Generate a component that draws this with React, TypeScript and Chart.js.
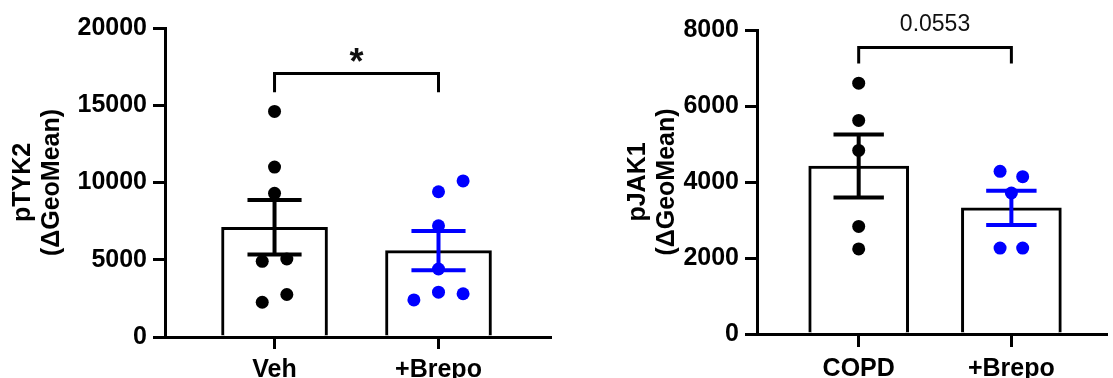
import { useEffect, useRef } from 'react';
import { Chart, registerables } from 'chart.js';

Chart.register(...registerables);

const FONT = '"Liberation Sans", Arial, Helvetica, sans-serif';

// ---- pTYK2 panel data ----
const tyk2Title = ['pTYK2', '(ΔGeoMean)'];
const tyk2Groups = ['Veh', '+Brepo'];
const tyk2Means = [7100, 5590];
const tyk2Sems = [1760, 1265];
const tyk2VehValues = [14600, 11000, 9300, 4900, 5050, 2250, 2750];
const tyk2BrepoValues = [10100, 9400, 7200, 4400, 2400, 2900, 2800];
const tyk2Ticks = [0, 5000, 10000, 15000, 20000];
const tyk2Bracket = [15840, 17050];
const tyk2SigLabel = '*';

// ---- pJAK1 panel data ----
const jak1Title = ['pJAK1', '(ΔGeoMean)'];
const jak1Groups = ['COPD', '+Brepo'];
const jak1Means = [4420, 3320];
const jak1Sems = [828, 451];
const jak1CopdValues = [6600, 5620, 4830, 2830, 2240];
const jak1BrepoValues = [4280, 4140, 3710, 2260, 2260];
const jak1Ticks = [0, 2000, 4000, 6000, 8000];
const jak1Bracket = [7120, 7540];
const jak1SigLabel = '0.0553';

// horizontal spread of the individual points (in category units)
const tyk2VehJitter = [0, 0, 0, -0.075, 0.075, -0.075, 0.075];
const tyk2BrepoJitter = [0.15, 0, 0, 0, -0.15, 0, 0.15];
const jak1CopdJitter = [0, 0, 0, 0, 0];
const jak1BrepoJitter = [-0.074, 0.074, 0, -0.074, 0.074];

const BLACK = '#000000';
const BLUE = '#0000ff';
const CAP_HALF = 0.165;

type PanelSpec = {
  title: string[];
  groups: string[];
  means: number[];
  sems: number[];
  points: number[][];
  jitter: number[][];
  colors: string[];
  ticks: number[];
  bracket: number[];
  sigLabel: string;
  sigFont: { size: number; weight: string };
  sigGap: number;
  canvasLeft: number;
  canvasWidth: number;
  yAxisWidth: number;
  padTop: number;
  padRight: number;
  xAxisHeight: number;
  xMin: number;
  xMax: number;
  barThickness: number;
  xTickLen: number;
  xTickPad: number;
};

const HEIGHT = 378;

const panels: PanelSpec[] = [
  {
    title: tyk2Title,
    groups: tyk2Groups,
    means: tyk2Means,
    sems: tyk2Sems,
    points: [tyk2VehValues, tyk2BrepoValues],
    jitter: [tyk2VehJitter, tyk2BrepoJitter],
    colors: [BLACK, BLUE],
    ticks: tyk2Ticks,
    bracket: tyk2Bracket,
    sigLabel: tyk2SigLabel,
    sigFont: { size: 36, weight: 'bold' },
    sigGap: 0,
    canvasLeft: 0,
    canvasWidth: 560,
    yAxisWidth: 165,
    padTop: 28,
    padRight: 10,
    xAxisHeight: 41,
    xMin: -0.668,
    xMax: 1.68,
    barThickness: 106,
    xTickLen: 12,
    xTickPad: 6,
  },
  {
    title: jak1Title,
    groups: jak1Groups,
    means: jak1Means,
    sems: jak1Sems,
    points: [jak1CopdValues, jak1BrepoValues],
    jitter: [jak1CopdJitter, jak1BrepoJitter],
    colors: [BLACK, BLUE],
    ticks: jak1Ticks,
    bracket: jak1Bracket,
    sigLabel: jak1SigLabel,
    sigFont: { size: 23, weight: 'normal' },
    sigGap: 16,
    canvasLeft: 615,
    canvasWidth: 498,
    yAxisWidth: 142,
    padTop: 30,
    padRight: 0,
    xAxisHeight: 44,
    xMin: -0.666,
    xMax: 1.623,
    barThickness: 100,
    xTickLen: 13,
    xTickPad: 7,
  },
];

function buildConfig(spec: PanelSpec): any {
  const datasets: any[] = [];

  // individual points
  spec.points.forEach((vals, g) => {
    datasets.push({
      type: 'scatter',
      data: vals.map((v, i) => ({ x: g + spec.jitter[g][i], y: v })),
      backgroundColor: spec.colors[g],
      borderColor: spec.colors[g],
      pointRadius: 6.5,
      pointBorderWidth: 0,
      pointHoverRadius: 6.5,
      order: 0,
    });
  });

  // mean ± SEM error bars
  spec.means.forEach((m, g) => {
    const lo = m - spec.sems[g];
    const hi = m + spec.sems[g];
    const segments = [
      [{ x: g, y: lo }, { x: g, y: hi }],
      [{ x: g - CAP_HALF, y: hi }, { x: g + CAP_HALF, y: hi }],
      [{ x: g - CAP_HALF, y: lo }, { x: g + CAP_HALF, y: lo }],
    ];
    segments.forEach((seg) =>
      datasets.push({
        type: 'line',
        data: seg,
        borderColor: spec.colors[g],
        borderWidth: 4,
        borderCapStyle: 'butt',
        pointRadius: 0,
        fill: false,
        order: 1,
      })
    );
  });

  // significance bracket
  const [b0, b1] = spec.bracket;
  datasets.push({
    type: 'line',
    data: [
      { x: 0, y: b0 },
      { x: 0, y: b1 },
      { x: 1, y: b1 },
      { x: 1, y: b0 },
    ],
    borderColor: BLACK,
    borderWidth: 3,
    borderJoinStyle: 'miter',
    borderCapStyle: 'butt',
    pointRadius: 0,
    fill: false,
    order: 1,
  });

  // group mean bars
  datasets.push({
    type: 'bar',
    data: spec.means.map((m, i) => ({ x: i, y: m })),
    backgroundColor: '#ffffff',
    borderColor: BLACK,
    borderWidth: 3,
    barThickness: spec.barThickness,
    order: 2,
  });

  const sigPlugin = {
    id: 'sigLabel',
    afterDraw(chart: any) {
      const { ctx, scales } = chart;
      const x = scales.x.getPixelForValue(0.5);
      const y = scales.y.getPixelForValue(spec.bracket[1]) - spec.sigGap;
      ctx.save();
      ctx.fillStyle = '#111111';
      ctx.font = `${spec.sigFont.weight} ${spec.sigFont.size}px ${FONT}`;
      ctx.textAlign = 'center';
      ctx.textBaseline = 'alphabetic';
      ctx.fillText(spec.sigLabel, x, y);
      ctx.restore();
    },
  };

  const tickFont = { family: FONT, size: 25, weight: 'bold' as const };

  return {
    type: 'bar',
    data: { datasets },
    plugins: [sigPlugin],
    options: {
      responsive: false,
      animation: false,
      devicePixelRatio: 1,
      events: [],
      layout: { padding: { top: spec.padTop, right: spec.padRight, bottom: 0, left: 0 } },
      plugins: { legend: { display: false }, tooltip: { enabled: false } },
      scales: {
        x: {
          type: 'linear',
          min: spec.xMin,
          max: spec.xMax,
          offset: false,
          z: 1,
          afterBuildTicks: (axis: any) => {
            axis.ticks = spec.groups.map((_, i) => ({ value: i }));
          },
          afterFit: (axis: any) => {
            axis.height = spec.xAxisHeight;
          },
          ticks: {
            autoSkip: false,
            maxRotation: 0,
            padding: spec.xTickPad,
            color: BLACK,
            font: tickFont,
            callback: (v: number) => spec.groups[Math.round(v)] ?? '',
          },
          grid: {
            offset: false,
            drawOnChartArea: false,
            drawTicks: true,
            tickLength: spec.xTickLen,
            lineWidth: 3,
            color: BLACK,
          },
          border: { display: true, width: 3, color: BLACK },
        },
        y: {
          type: 'linear',
          min: spec.ticks[0],
          max: spec.ticks[spec.ticks.length - 1],
          z: 1,
          afterBuildTicks: (axis: any) => {
            axis.ticks = spec.ticks.map((v) => ({ value: v }));
          },
          afterFit: (axis: any) => {
            axis.width = spec.yAxisWidth;
          },
          ticks: {
            padding: 6,
            color: BLACK,
            font: tickFont,
            callback: (v: number) => String(v),
          },
          grid: {
            drawOnChartArea: false,
            drawTicks: true,
            tickLength: 12,
            lineWidth: 3,
            color: BLACK,
          },
          border: { display: true, width: 3, color: BLACK },
          title: {
            display: true,
            text: spec.title,
            color: BLACK,
            font: { family: FONT, size: 25, weight: 'bold', lineHeight: 1.15 },
            padding: { top: 9, bottom: 0 },
          },
        },
      },
    },
  };
}

function Panel({ spec }: { spec: PanelSpec }) {
  const ref = useRef<HTMLCanvasElement | null>(null);
  useEffect(() => {
    if (!ref.current) return;
    const chart = new Chart(ref.current, buildConfig(spec));
    return () => chart.destroy();
  }, [spec]);
  return (
    <div
      style={{
        position: 'absolute',
        left: spec.canvasLeft,
        top: 0,
        width: spec.canvasWidth,
        height: HEIGHT,
      }}
    >
      <canvas
        ref={ref}
        width={spec.canvasWidth}
        height={HEIGHT}
        style={{ display: 'block', width: spec.canvasWidth, height: HEIGHT }}
      />
    </div>
  );
}

export default function App() {
  return (
    <div
      style={{
        position: 'absolute',
        left: 0,
        top: 0,
        width: 1113,
        height: HEIGHT,
        background: '#ffffff',
        overflow: 'hidden',
      }}
    >
      {panels.map((p, i) => (
        <Panel key={i} spec={p} />
      ))}
    </div>
  );
}
